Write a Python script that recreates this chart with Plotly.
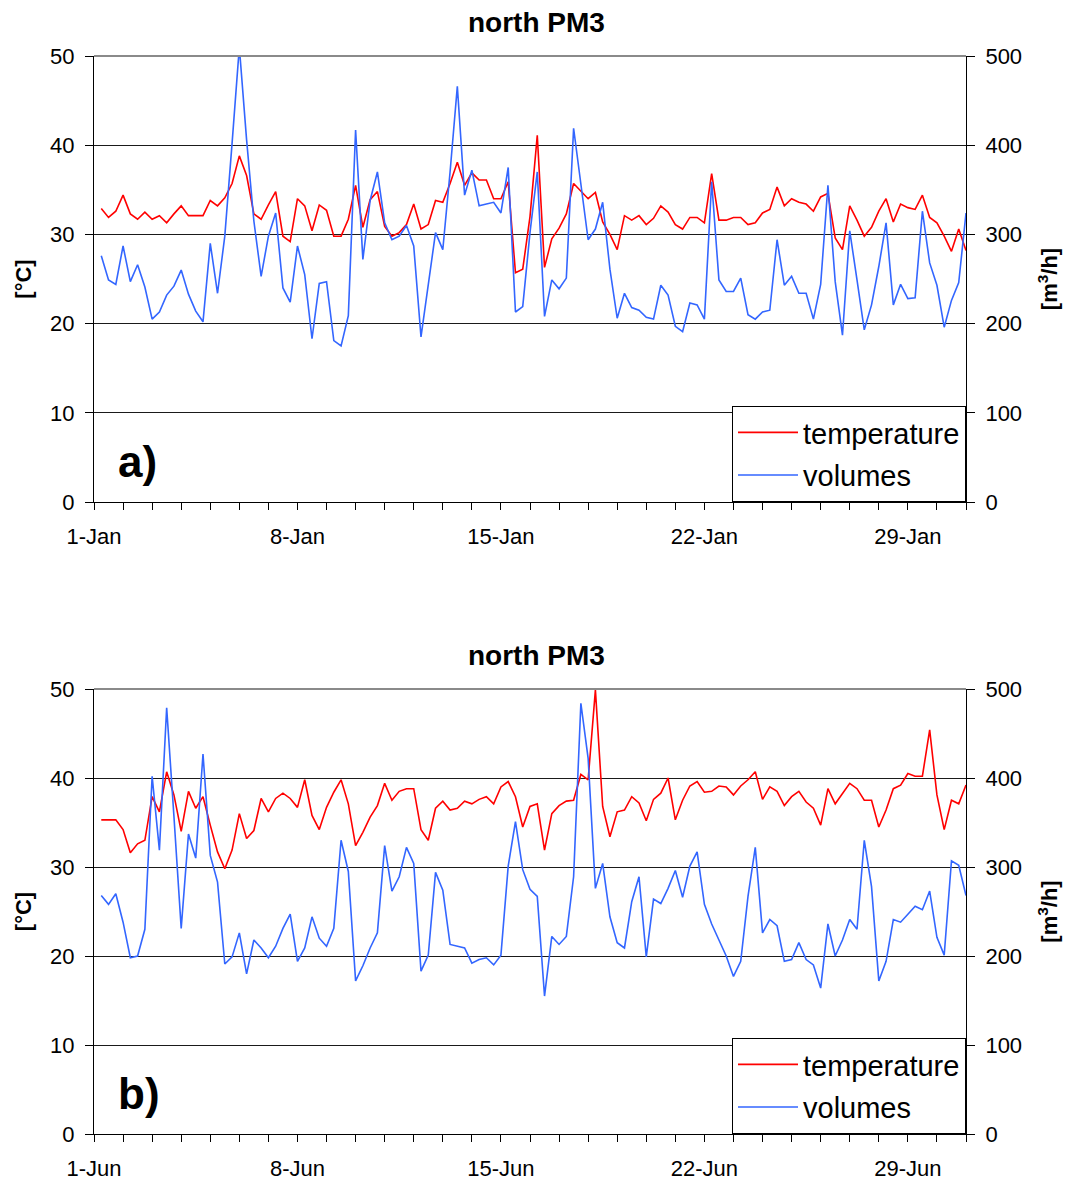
import pandas as pd
import plotly.graph_objects as go

# 6-hourly readings, January and June
temp_jan = [32.9, 31.9, 32.6, 34.4, 32.3, 31.7, 32.5, 31.7, 32.1, 31.3,
            32.3, 33.2, 32.1, 32.1, 32.1, 33.8, 33.2, 34.1, 35.7, 38.8,
            36.6, 32.3, 31.7, 33.3, 34.8, 29.8, 29.2, 34.0, 33.2, 30.4,
            33.3, 32.7, 29.8, 29.8, 31.7, 35.5, 30.8, 33.9, 34.8, 30.9,
            29.8, 30.2, 31.1, 33.4, 30.6, 31.1, 33.8, 33.6, 35.7, 38.1,
            35.5, 36.9, 36.1, 36.1, 34.0, 34.0, 35.9, 25.7, 26.1, 32.0,
            41.1, 26.3, 29.5, 30.7, 32.3, 35.7, 34.8, 34.0, 34.7, 31.4,
            30.0, 28.3, 32.1, 31.6, 32.1, 31.1, 31.8, 33.2, 32.5, 31.1,
            30.6, 31.9, 31.9, 31.3, 36.8, 31.6, 31.6, 31.9, 31.9, 31.1,
            31.3, 32.4, 32.8, 35.3, 33.2, 34.0, 33.6, 33.4, 32.6, 34.2,
            34.6, 29.6, 28.3, 33.2, 31.6, 29.8, 30.8, 32.6, 34.0, 31.4,
            33.4, 33.0, 32.8, 34.4, 31.9, 31.3, 29.8, 28.1, 30.6, 28.2]

vol_jan = [276, 249, 244, 287, 247, 266, 241, 205, 213, 232,
           242, 260, 233, 214, 202, 290, 234, 298, 402, 510,
           406, 315, 253, 298, 324, 240, 224, 287, 255, 183,
           245, 247, 181, 175, 209, 417, 272, 338, 370, 313,
           294, 298, 310, 287, 185, 242, 302, 283, 370, 466,
           344, 372, 332, 334, 336, 324, 375, 213, 219, 302,
           370, 208, 249, 239, 251, 419, 354, 294, 306, 336,
           261, 206, 234, 218, 215, 207, 205, 243, 232, 197,
           191, 223, 221, 205, 359, 249, 236, 236, 251, 210,
           205, 213, 215, 294, 243, 253, 234, 234, 205, 244,
           355, 247, 187, 304, 249, 193, 221, 264, 313, 221,
           244, 228, 229, 326, 268, 243, 196, 226, 246, 324]

temp_jun = [35.3, 35.3, 35.3, 34.2, 31.6, 32.6, 33.0, 37.9, 36.2, 40.7,
            38.1, 34.0, 38.5, 36.6, 37.9, 34.7, 31.7, 29.8, 31.9, 36.0,
            33.2, 34.1, 37.7, 36.2, 37.7, 38.3, 37.7, 36.7, 39.8, 35.8,
            34.2, 36.7, 38.4, 39.8, 37.1, 32.4, 33.9, 35.6, 36.9, 39.4,
            37.5, 38.5, 38.8, 38.8, 34.2, 33.0, 36.6, 37.4, 36.4, 36.6,
            37.4, 37.1, 37.6, 37.9, 37.1, 39.0, 39.6, 37.9, 34.5, 36.8,
            37.1, 31.9, 36.0, 36.9, 37.4, 37.5, 40.4, 39.8, 49.9, 36.8,
            33.4, 36.2, 36.4, 37.9, 37.2, 35.2, 37.6, 38.3, 40.0, 35.3,
            37.5, 39.1, 39.6, 38.4, 38.5, 39.1, 39.0, 38.1, 39.1, 39.8,
            40.7, 37.6, 39.0, 38.5, 36.9, 37.9, 38.5, 37.3, 36.6, 34.7,
            38.8, 37.1, 38.3, 39.4, 38.8, 37.5, 37.5, 34.5, 36.4, 38.8,
            39.2, 40.5, 40.2, 40.2, 45.4, 38.1, 34.2, 37.5, 37.1, 39.2]

vol_jun = [268, 258, 270, 238, 198, 200, 230, 402, 319, 479,
           357, 231, 337, 310, 427, 313, 283, 191, 199, 226,
           180, 218, 209, 198, 211, 231, 247, 194, 209, 244,
           220, 211, 231, 330, 295, 172, 189, 209, 226, 324,
           273, 289, 322, 304, 183, 201, 294, 274, 213, 211,
           209, 192, 196, 198, 190, 201, 301, 351, 297, 275,
           267, 155, 222, 213, 222, 289, 484, 422, 276, 304,
           244, 215, 209, 261, 289, 199, 264, 259, 276, 296,
           266, 301, 317, 258, 236, 218, 200, 177, 194, 267,
           322, 226, 241, 234, 194, 196, 215, 196, 190, 164,
           236, 200, 218, 241, 230, 330, 278, 172, 194, 241,
           238, 247, 256, 252, 273, 221, 201, 307, 302, 268]

times_jan = pd.date_range("2007-01-01 06:00", periods=len(temp_jan), freq="6h")
times_jun = pd.date_range("2007-06-01 06:00", periods=len(temp_jun), freq="6h")

range_jan = ["2007-01-01", "2007-01-31"]
range_jun = ["2007-06-01", "2007-07-01"]
ticks_jan = ["2007-01-01", "2007-01-08", "2007-01-15", "2007-01-22", "2007-01-29"]
labels_jan = ["1-Jan", "8-Jan", "15-Jan", "22-Jan", "29-Jan"]
ticks_jun = ["2007-06-01", "2007-06-08", "2007-06-15", "2007-06-22", "2007-06-29"]
labels_jun = ["1-Jun", "8-Jun", "15-Jun", "22-Jun", "29-Jun"]

panel_title = "north PM3"
panel_tags = ["a)", "b)"]

RED = "#FF0000"
BLUE = "#3366FF"
FONT = "Liberation Sans, Arial, sans-serif"

W, H = 1071, 1180
ML, MR = 94, 105
# vertical pixel extents of the two plot areas
top_a, bot_a = 56, 502
top_b, bot_b = 689, 1134
dom_a = [1 - bot_a / H, 1 - top_a / H]
dom_b = [1 - bot_b / H, 1 - top_b / H]

fig = go.Figure()

fig.add_trace(go.Scatter(x=times_jan, y=temp_jan, name="temperature", mode="lines",
                         line=dict(color=RED, width=1.6), xaxis="x", yaxis="y",
                         legend="legend", legendgroup="t1"))
fig.add_trace(go.Scatter(x=times_jan, y=vol_jan, name="volumes", mode="lines",
                         line=dict(color=BLUE, width=1.6), xaxis="x", yaxis="y2",
                         legend="legend", legendgroup="v1"))
fig.add_trace(go.Scatter(x=times_jun, y=temp_jun, name="temperature", mode="lines",
                         line=dict(color=RED, width=1.6), xaxis="x2", yaxis="y3",
                         legend="legend2", legendgroup="t2"))
fig.add_trace(go.Scatter(x=times_jun, y=vol_jun, name="volumes", mode="lines",
                         line=dict(color=BLUE, width=1.6), xaxis="x2", yaxis="y4",
                         legend="legend2", legendgroup="v2"))

tick_font = dict(family=FONT, size=22, color="black")
axis_title_font = dict(family=FONT, size=22, color="black")


def xaxis_cfg(anchor, rng, tv, tt):
    return dict(domain=[0, 1], anchor=anchor, type="date", range=rng,
                automargin=False,
                tickmode="array", tickvals=tv, ticktext=tt,
                ticks="outside", ticklen=7, tickcolor="black", tickwidth=1,
                minor=dict(ticks="outside", dtick=86400000, ticklen=7,
                           tickcolor="black", tickwidth=1, showgrid=False),
                showline=True, linecolor="black", linewidth=1,
                showgrid=False, zeroline=False, tickfont=tick_font,
                ticklabelstandoff=8)


def ytemp_cfg(anchor, dom):
    return dict(domain=dom, anchor=anchor, range=[0, 50], dtick=10,
                automargin=False,
                ticks="outside", ticklen=8, tickcolor="black",
                showline=True, linecolor="black", linewidth=1,
                showgrid=True, gridcolor="#1a1a1a", gridwidth=1,
                zeroline=False, tickfont=tick_font, ticklabelstandoff=6,
                title=dict(text="<b>[°C]</b>", font=axis_title_font, standoff=12))


def yvol_cfg(anchor, over):
    return dict(anchor=anchor, overlaying=over, side="right", range=[0, 500],
                automargin=False,
                dtick=100, ticks="outside", ticklen=8, tickcolor="black",
                showline=True, linecolor="black", linewidth=1,
                showgrid=False, zeroline=False, tickfont=tick_font,
                ticklabelstandoff=6,
                title=dict(text="<b>[m<sup>3</sup>/h]</b>", font=axis_title_font,
                           standoff=20))


legend_cfg = dict(xanchor="right", x=1.0, yanchor="bottom",
                  bgcolor="white", bordercolor="black", borderwidth=1,
                  font=dict(family=FONT, size=29, color="black"),
                  traceorder="grouped", itemwidth=60, tracegroupgap=2)

fig.update_layout(
    width=W, height=H,
    margin=dict(l=ML, r=MR, t=0, b=0, autoexpand=False),
    paper_bgcolor="white", plot_bgcolor="white",
    font=dict(family=FONT, color="black"),
    xaxis=xaxis_cfg("y", range_jan, ticks_jan, labels_jan),
    yaxis=ytemp_cfg("x", dom_a),
    yaxis2=yvol_cfg("x", "y"),
    xaxis2=xaxis_cfg("y3", range_jun, ticks_jun, labels_jun),
    yaxis3=ytemp_cfg("x2", dom_b),
    yaxis4=yvol_cfg("x2", "y3"),
    legend=dict(legend_cfg, y=dom_a[0]),
    legend2=dict(legend_cfg, y=dom_b[0]),
)

# lighter frame line along the top of each plot area
for dom in (dom_a, dom_b):
    fig.add_shape(type="line", xref="paper", yref="paper",
                  x0=0, x1=1, y0=dom[1], y1=dom[1],
                  line=dict(color="#8a8a8a", width=2), layer="above")

# panel titles and tags
for dom, tag, xd, yd in [(dom_a, panel_tags[0], "x domain", "y domain"),
                         (dom_b, panel_tags[1], "x2 domain", "y3 domain")]:
    fig.add_annotation(text=f"<b>{panel_title}</b>", xref="paper", yref="paper",
                       x=0.507, y=dom[1] + 34 / H, xanchor="center", yanchor="middle",
                       showarrow=False, font=dict(family=FONT, size=28, color="black"))
    fig.add_annotation(text=f"<b>{tag}</b>", xref=xd, yref=yd,
                       x=0.025, y=0.09, xanchor="left", yanchor="middle",
                       showarrow=False, font=dict(family=FONT, size=44, color="black"))

fig.write_html("out.html")
